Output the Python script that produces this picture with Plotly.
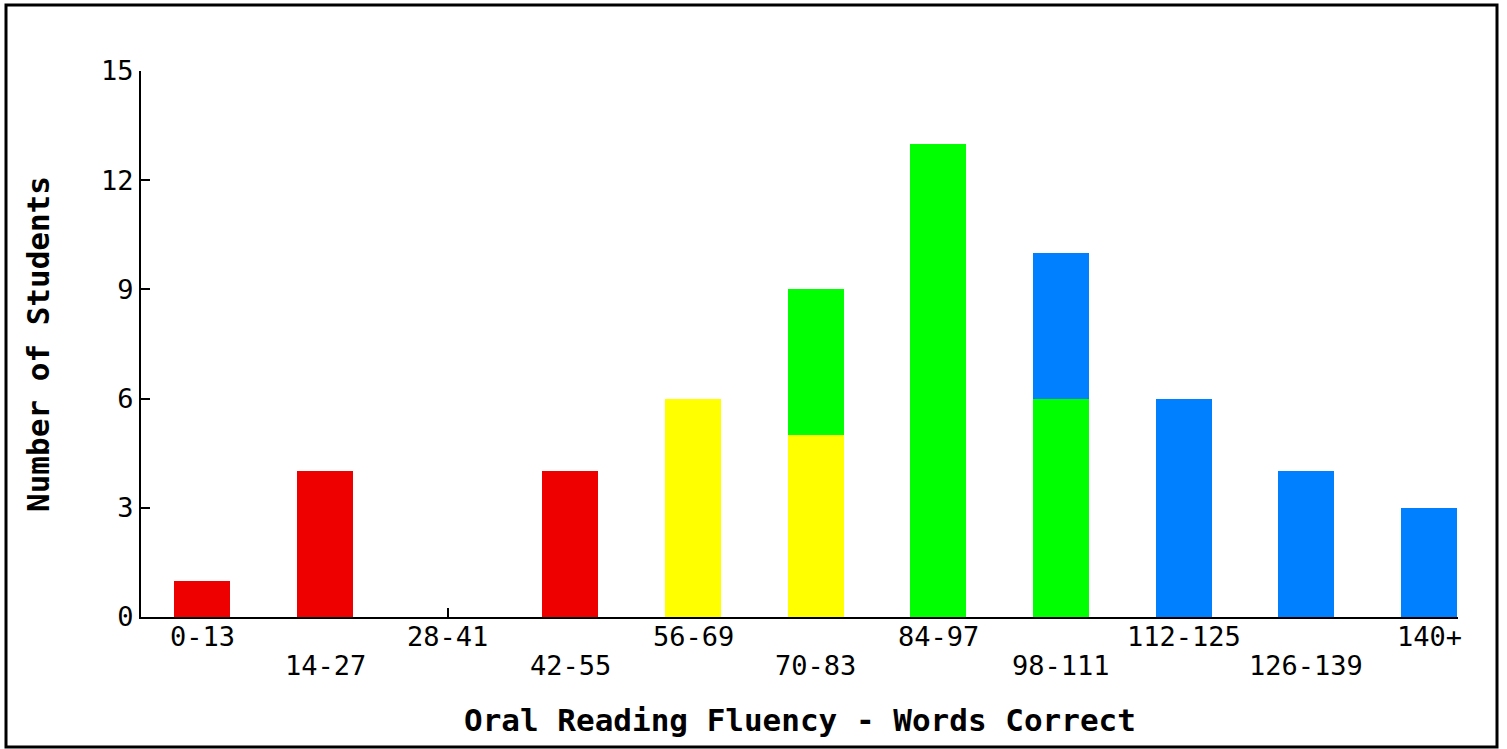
import plotly.graph_objects as go

categories = ["0-13", "14-27", "28-41", "42-55", "56-69", "70-83", "84-97",
              "98-111", "112-125", "126-139", "140+"]
red_vals = [1, 4, 0, 4, 0, 0, 0, 0, 0, 0, 0]
yellow_vals = [0, 0, 0, 0, 6, 5, 0, 0, 0, 0, 0]
green_vals = [0, 0, 0, 0, 0, 4, 13, 6, 0, 0, 0]
blue_vals = [0, 0, 0, 0, 0, 0, 0, 4, 6, 4, 3]
y_ticks = [0, 3, 6, 9, 12, 15]
x_title = "Oral Reading Fluency - Words Correct"
y_title = "Number of Students"

series = [
    ("Red", red_vals, "#EE0000"),
    ("Yellow", yellow_vals, "#FFFF00"),
    ("Green", green_vals, "#00FF00"),
    ("Blue", blue_vals, "#0080FF"),
]

FONT = "DejaVu Sans Mono"
idx = list(range(len(categories)))

fig = go.Figure()
for name, vals, col in series:
    fig.add_trace(go.Bar(x=idx, y=vals, name=name, width=0.456,
                         marker=dict(color=col, line=dict(width=0)),
                         hoverinfo="skip"))

W, H = 1507, 749
L, R, T, B = 141, 49, 71, 132
pw, ph = W - L - R, H - T - B

annotations = []
for i, c in enumerate(categories):
    annotations.append(dict(x=i, y=0, xref="x", yref="paper", text=c,
                            showarrow=False, xanchor="center", yanchor="middle",
                            yshift=-19 if i % 2 == 0 else -48,
                            font=dict(size=27, family=FONT, color="black")))
annotations.append(dict(x=0.5, y=0, xref="paper", yref="paper",
                        text="<b>" + x_title + "</b>", showarrow=False,
                        xanchor="center", yanchor="middle", yshift=-103,
                        font=dict(size=31, family=FONT, color="black")))
annotations.append(dict(x=0, y=0.5, xref="paper", yref="paper",
                        text="<b>" + y_title + "</b>", showarrow=False,
                        xanchor="center", yanchor="middle", xshift=-103,
                        textangle=-90,
                        font=dict(size=31, family=FONT, color="black")))

fig.update_layout(
    width=W, height=H, barmode="stack", showlegend=False,
    margin=dict(l=L, r=R, t=T, b=B, pad=0),
    paper_bgcolor="white", plot_bgcolor="white",
    font=dict(family=FONT, color="black"),
    xaxis=dict(range=[-0.5, 10.236], tickvals=idx, showticklabels=False,
               ticks="inside", ticklen=9, tickwidth=2, tickcolor="black",
               showline=True, linecolor="black", linewidth=2,
               showgrid=False, zeroline=False, layer="below traces"),
    yaxis=dict(range=[0, 15], tickvals=y_ticks,
               ticks="inside", ticklen=9, tickwidth=2, tickcolor="black",
               showline=True, linecolor="black", linewidth=2,
               showgrid=False, zeroline=False,
               tickfont=dict(size=27, family=FONT)),
    annotations=annotations,
    shapes=[dict(type="rect", xref="paper", yref="paper",
                 x0=(6 - L) / pw, x1=(1497 - L) / pw,
                 y0=(H - B - 747) / ph, y1=(H - B - 5) / ph,
                 line=dict(color="black", width=3), fillcolor="rgba(0,0,0,0)",
                 layer="above")],
)

fig.write_html("out.html", config={"displayModeBar": False},
               post_script="document.body.style.margin='0';"
                           "document.body.style.overflow='hidden';")
